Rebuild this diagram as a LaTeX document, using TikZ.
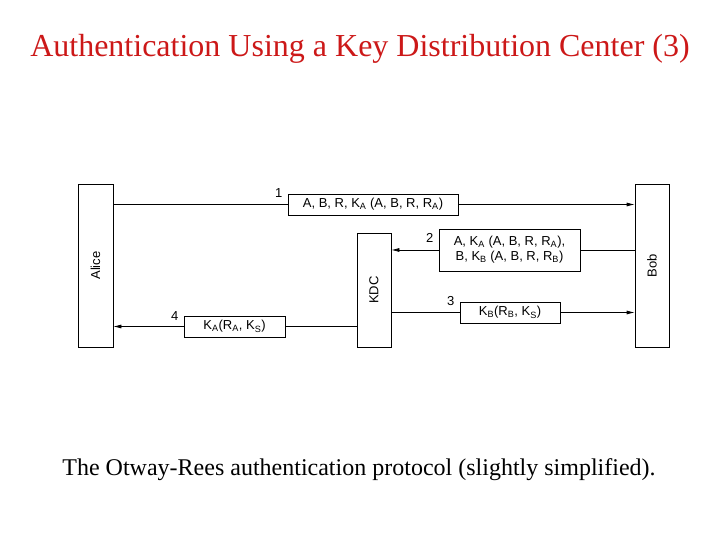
\documentclass[tikz,border=0pt]{standalone}
\usepackage{fontspec}
\setmainfont{Liberation Serif}
\newfontfamily\diagfont{Liberation Sans}
\usepackage{tikz}
\usetikzlibrary{arrows.meta,positioning,calc}

\definecolor{titlered}{RGB}{204,24,24}
\newcommand{\sbs}[1]{\textsubscript{#1}}

\begin{document}
\begin{tikzpicture}[
  x=1pt,y=1pt,
  party/.style={draw, line width=0.7pt, minimum width=35pt, inner sep=0pt, font=\diagfont\fontsize{13}{15}\selectfont},
  msg/.style={draw, line width=0.7pt, fill=white, minimum height=21pt, inner sep=0pt, align=center, font=\diagfont\fontsize{13}{15}\selectfont},
  num/.style={anchor=base east, inner sep=0pt, font=\diagfont\fontsize{13}{15}\selectfont},
  arr/.style={-{Latex[length=8pt,width=4pt]}, line width=0.7pt},
  ln/.style={line width=0.7pt}
]
\useasboundingbox (0,0) rectangle (720,540);
% title and caption
\node[text=titlered, font=\fontsize{32}{38}\selectfont] (title) at (360,491) {Authentication Using a Key Distribution Center (3)};
\node[font=\fontsize{24}{29}\selectfont] (caption) at (359,70) {The Otway-Rees authentication protocol (slightly simplified).};
% the three parties
\node[party, minimum height=163pt] (alice) at (95.5,274.5) {\rotatebox{90}{Alice}};
\node[party, minimum height=163pt, minimum width=34pt] (bob) at (652,274.5) {\rotatebox{90}{Bob}};
\node[party, minimum height=114pt, minimum width=34pt] (kdc) at (374,250) {\rotatebox{90}{KDC}};
% messages
\node[msg, minimum width=170pt] (m1) at (373,335.5) {A, B, R, K\sbs{A} (A, B, R, R\sbs{A})};
\node[msg, minimum width=141pt, minimum height=42pt] (m2) at (509.5,290) {A, K\sbs{A} (A, B, R, R\sbs{A}),\\B, K\sbs{B} (A, B, R, R\sbs{B})};
\node[msg, minimum width=100pt] (m3) at (510,227.5) {K\sbs{B}(R\sbs{B}, K\sbs{S})};
\node[msg, minimum width=101pt] (m4) at (234.5,213.5) {K\sbs{A}(R\sbs{A}, K\sbs{S})};
\node[num] (n1) at ($(m1.north west)+(-5,-4)$) {1};
\node[num] (n2) at ($(m2.north west)+(-5,-14)$) {2};
\node[num] (n3) at ($(m3.north west)+(-5,-4)$) {3};
\node[num] (n4) at ($(m4.north west)+(-5,-5)$) {4};
% connectors
\draw[ln] (alice.east |- m1) -- (m1.west);
\draw[arr] (m1.east) -- (bob.west |- m1);
\draw[ln] (bob.west |- m2) -- (m2.east);
\draw[arr] (m2.west) -- (kdc.east |- m2);
\draw[ln] (kdc.east |- m3) -- (m3.west);
\draw[arr] (m3.east) -- (bob.west |- m3);
\draw[ln] (kdc.west |- m4) -- (m4.east);
\draw[arr] (m4.west) -- (alice.east |- m4);
\end{tikzpicture}
\end{document}
